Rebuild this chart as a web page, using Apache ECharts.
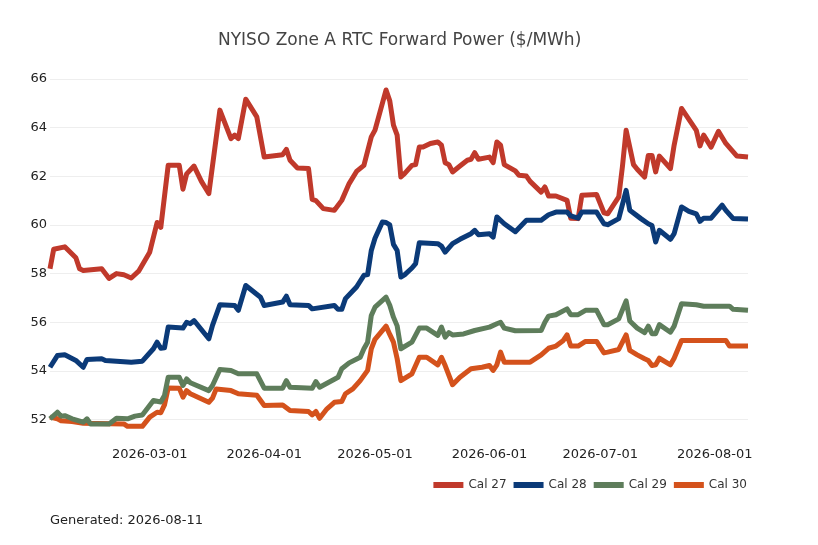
<!DOCTYPE html>
<html>
<head>
<meta charset="utf-8">
<script src="https://cdn.jsdelivr.net/npm/echarts@6/dist/echarts.min.js"></script>
<style>
html,body{margin:0;padding:0;background:#fff;}
#chart{width:818px;height:545px;}
</style>
</head>
<body>
<div id="chart"></div>
<script>
var seriesNames = ['Cal 27', 'Cal 28', 'Cal 29', 'Cal 30'];

var cal27Dates = ['2026-02-02','2026-02-03','2026-02-06','2026-02-09','2026-02-10','2026-02-11','2026-02-16','2026-02-18','2026-02-20','2026-02-22','2026-02-24','2026-02-26','2026-03-01','2026-03-03','2026-03-04','2026-03-06','2026-03-09','2026-03-10','2026-03-11','2026-03-13','2026-03-15','2026-03-17','2026-03-20','2026-03-23','2026-03-24','2026-03-25','2026-03-27','2026-03-30','2026-04-01','2026-04-06','2026-04-07','2026-04-08','2026-04-10','2026-04-13','2026-04-14','2026-04-15','2026-04-17','2026-04-20','2026-04-22','2026-04-24','2026-04-26','2026-04-28','2026-04-30','2026-05-01','2026-05-04','2026-05-05','2026-05-06','2026-05-07','2026-05-08','2026-05-09','2026-05-11','2026-05-12','2026-05-13','2026-05-14','2026-05-16','2026-05-18','2026-05-19','2026-05-20','2026-05-21','2026-05-22','2026-05-24','2026-05-26','2026-05-27','2026-05-28','2026-05-29','2026-06-01','2026-06-02','2026-06-03','2026-06-04','2026-06-05','2026-06-08','2026-06-09','2026-06-11','2026-06-12','2026-06-15','2026-06-16','2026-06-17','2026-06-19','2026-06-22','2026-06-23','2026-06-25','2026-06-26','2026-06-30','2026-07-02','2026-07-03','2026-07-06','2026-07-07','2026-07-08','2026-07-10','2026-07-11','2026-07-13','2026-07-14','2026-07-15','2026-07-16','2026-07-17','2026-07-20','2026-07-21','2026-07-23','2026-07-27','2026-07-28','2026-07-29','2026-07-31','2026-08-02','2026-08-04','2026-08-07','2026-08-10'];
var cal27Values = [58.2,59.0,59.1,58.65,58.2,58.13,58.2,57.8,58.0,57.95,57.82,58.1,58.88,60.1,59.9,62.45,62.45,61.47,62.1,62.42,61.79,61.29,64.72,63.55,63.69,63.55,65.17,64.44,62.79,62.89,63.11,62.66,62.34,62.32,61.05,61.0,60.67,60.6,61.01,61.7,62.2,62.45,63.62,63.9,65.55,65.1,64.1,63.69,61.97,62.11,62.45,62.48,63.2,63.2,63.35,63.41,63.28,62.56,62.48,62.18,62.42,62.66,62.7,62.97,62.7,62.79,62.56,63.41,63.28,62.48,62.22,62.04,62.01,61.79,61.35,61.56,61.19,61.19,61.01,60.28,60.26,61.22,61.25,60.5,60.46,61.15,62.4,63.89,62.48,62.29,61.97,62.86,62.86,62.18,62.83,62.32,63.28,64.79,63.89,63.25,63.69,63.2,63.85,63.35,62.83,62.79];

var cal28Dates = ['2026-02-02','2026-02-04','2026-02-06','2026-02-09','2026-02-11','2026-02-12','2026-02-16','2026-02-17','2026-02-24','2026-02-27','2026-03-02','2026-03-03','2026-03-04','2026-03-05','2026-03-06','2026-03-10','2026-03-11','2026-03-12','2026-03-13','2026-03-17','2026-03-18','2026-03-20','2026-03-24','2026-03-25','2026-03-27','2026-03-31','2026-04-01','2026-04-06','2026-04-07','2026-04-08','2026-04-13','2026-04-14','2026-04-20','2026-04-21','2026-04-22','2026-04-23','2026-04-26','2026-04-28','2026-04-29','2026-04-30','2026-05-01','2026-05-03','2026-05-04','2026-05-05','2026-05-06','2026-05-07','2026-05-08','2026-05-09','2026-05-11','2026-05-12','2026-05-13','2026-05-18','2026-05-19','2026-05-20','2026-05-22','2026-05-24','2026-05-27','2026-05-28','2026-05-29','2026-06-01','2026-06-02','2026-06-03','2026-06-05','2026-06-08','2026-06-11','2026-06-15','2026-06-17','2026-06-19','2026-06-22','2026-06-23','2026-06-25','2026-06-26','2026-06-30','2026-07-02','2026-07-03','2026-07-06','2026-07-08','2026-07-09','2026-07-12','2026-07-14','2026-07-15','2026-07-16','2026-07-17','2026-07-20','2026-07-21','2026-07-23','2026-07-25','2026-07-27','2026-07-28','2026-07-29','2026-07-31','2026-08-03','2026-08-04','2026-08-06','2026-08-10'];
var cal28Values = [54.15,54.63,54.66,54.43,54.15,54.47,54.5,54.43,54.36,54.4,54.91,55.18,54.93,54.95,55.8,55.76,56.0,55.94,56.07,55.32,55.87,56.72,56.69,56.49,57.51,57.03,56.69,56.83,57.07,56.72,56.69,56.55,56.69,56.53,56.53,56.97,57.45,57.93,57.96,58.95,59.45,60.12,60.1,60.0,59.2,58.95,57.86,57.95,58.23,58.41,59.27,59.23,59.13,58.88,59.23,59.41,59.64,59.78,59.6,59.64,59.5,60.33,60.05,59.72,60.19,60.19,60.42,60.53,60.53,60.37,60.28,60.53,60.53,60.05,60.01,60.26,61.42,60.6,60.26,60.05,59.98,59.3,59.78,59.41,59.64,60.74,60.56,60.46,60.15,60.28,60.28,60.81,60.6,60.26,60.24];

var cal29Dates = ['2026-02-02','2026-02-04','2026-02-05','2026-02-06','2026-02-08','2026-02-11','2026-02-12','2026-02-13','2026-02-18','2026-02-20','2026-02-23','2026-02-25','2026-02-27','2026-03-02','2026-03-03','2026-03-04','2026-03-05','2026-03-06','2026-03-09','2026-03-10','2026-03-11','2026-03-12','2026-03-17','2026-03-18','2026-03-20','2026-03-23','2026-03-25','2026-03-30','2026-04-01','2026-04-06','2026-04-07','2026-04-08','2026-04-14','2026-04-15','2026-04-16','2026-04-21','2026-04-22','2026-04-24','2026-04-27','2026-04-28','2026-04-29','2026-04-30','2026-05-01','2026-05-04','2026-05-05','2026-05-06','2026-05-07','2026-05-08','2026-05-11','2026-05-13','2026-05-15','2026-05-18','2026-05-19','2026-05-20','2026-05-21','2026-05-22','2026-05-25','2026-05-28','2026-06-01','2026-06-03','2026-06-04','2026-06-05','2026-06-08','2026-06-15','2026-06-16','2026-06-17','2026-06-19','2026-06-22','2026-06-23','2026-06-25','2026-06-27','2026-06-30','2026-07-02','2026-07-03','2026-07-06','2026-07-08','2026-07-09','2026-07-11','2026-07-13','2026-07-14','2026-07-15','2026-07-16','2026-07-17','2026-07-20','2026-07-21','2026-07-23','2026-07-27','2026-07-29','2026-08-05','2026-08-06','2026-08-10'];
var cal29Values = [52.03,52.3,52.14,52.16,52.03,51.89,52.03,51.82,51.82,52.05,52.03,52.14,52.19,52.78,52.75,52.72,52.99,53.74,53.74,53.4,53.67,53.51,53.19,53.4,54.06,54.02,53.88,53.88,53.29,53.29,53.6,53.33,53.29,53.56,53.33,53.74,54.09,54.33,54.56,54.91,55.18,56.28,56.62,57.03,56.7,56.21,55.85,54.91,55.18,55.76,55.76,55.46,55.8,55.39,55.57,55.48,55.52,55.66,55.8,55.94,56.0,55.76,55.65,55.66,56.0,56.25,56.31,56.55,56.31,56.31,56.49,56.49,55.9,55.9,56.14,56.88,56.05,55.76,55.57,55.84,55.53,55.53,55.9,55.59,55.84,56.76,56.72,56.66,56.66,56.53,56.49];

var cal30Dates = ['2026-02-02','2026-02-04','2026-02-05','2026-02-08','2026-02-11','2026-02-22','2026-02-23','2026-02-27','2026-03-01','2026-03-03','2026-03-04','2026-03-05','2026-03-06','2026-03-09','2026-03-10','2026-03-11','2026-03-12','2026-03-17','2026-03-18','2026-03-19','2026-03-23','2026-03-25','2026-03-30','2026-04-01','2026-04-06','2026-04-08','2026-04-13','2026-04-14','2026-04-15','2026-04-16','2026-04-18','2026-04-20','2026-04-22','2026-04-23','2026-04-25','2026-04-27','2026-04-29','2026-04-30','2026-05-01','2026-05-04','2026-05-05','2026-05-06','2026-05-07','2026-05-08','2026-05-11','2026-05-13','2026-05-15','2026-05-18','2026-05-19','2026-05-20','2026-05-22','2026-05-24','2026-05-27','2026-05-30','2026-06-01','2026-06-02','2026-06-03','2026-06-04','2026-06-05','2026-06-12','2026-06-15','2026-06-17','2026-06-19','2026-06-21','2026-06-22','2026-06-23','2026-06-25','2026-06-27','2026-06-30','2026-07-02','2026-07-03','2026-07-06','2026-07-08','2026-07-09','2026-07-11','2026-07-13','2026-07-14','2026-07-15','2026-07-16','2026-07-17','2026-07-20','2026-07-21','2026-07-23','2026-08-04','2026-08-05','2026-08-10'];
var cal30Values = [52.1,52.03,51.95,51.92,51.85,51.82,51.72,51.72,52.1,52.3,52.28,52.6,53.3,53.29,52.92,53.19,53.06,52.71,52.88,53.26,53.19,53.06,53.0,52.58,52.6,52.37,52.33,52.19,52.33,52.05,52.44,52.71,52.74,53.06,53.26,53.6,54.02,54.91,55.3,55.84,55.5,55.18,54.5,53.6,53.88,54.56,54.56,54.25,54.56,54.22,53.43,53.74,54.09,54.15,54.22,54.02,54.25,54.77,54.36,54.36,54.66,54.93,55.02,55.25,55.48,55.02,55.02,55.21,55.21,54.74,54.77,54.88,55.48,54.84,54.66,54.5,54.43,54.22,54.25,54.52,54.25,54.52,55.25,55.25,55.02,55.02];

var seriesColors = ['#c0392b', '#0b3a78', '#5e7d5b', '#d4521c'];
var titleText = 'NYISO Zone A RTC Forward Power ($/MWh)';
var footerText = 'Generated: 2026-08-11';

function pairs(d, v) { return d.map(function (x, i) { return [x, v[i]]; }); }
var allData = [pairs(cal27Dates, cal27Values), pairs(cal28Dates, cal28Values), pairs(cal29Dates, cal29Values), pairs(cal30Dates, cal30Values)];
var zs = [3, 3, 3, 2];

var chart = echarts.init(document.getElementById('chart'), null, {renderer: 'canvas'});
var font = 'DejaVu Sans';
chart.setOption({
  animation: false,
  backgroundColor: '#ffffff',
  textStyle: {fontFamily: font},
  title: {
    text: titleText, left: 213, top: 27,
    textStyle: {fontFamily: font, fontSize: 17, fontWeight: 'normal', color: '#444'}
  },
  grid: {left: 50, right: 70, top: 79, bottom: 106, containLabel: false},
  legend: {
    data: seriesNames, right: 71, top: 479, padding: 0,
    icon: 'rect', itemWidth: 30, itemHeight: 6, itemGap: 7,
    textStyle: {fontFamily: font, fontSize: 12, color: '#333'}
  },
  xAxis: {
    type: 'time', min: 'dataMin', max: 'dataMax',
    axisLine: {show: false}, axisTick: {show: false}, splitLine: {show: false},
    axisLabel: {
      fontFamily: font, fontSize: 13, color: '#222', margin: 9,
      formatter: function (v) { return echarts.time.format(v, '{yyyy}-{MM}-{dd}', false); }
    }
  },
  yAxis: {
    type: 'value', min: 51.2, max: 66, splitNumber: 7,
    axisLine: {show: false}, axisTick: {show: false},
    splitLine: {show: true, showMinLine: false, lineStyle: {color: '#eeeeee', width: 1}},
    axisLabel: {fontFamily: font, fontSize: 13, color: '#222', showMinLabel: false, margin: 3}
  },
  graphic: [{
    type: 'text', left: 50, top: 514,
    style: {text: footerText, fontFamily: font, fontSize: 13, fill: '#222'}
  }],
  series: seriesNames.map(function (n, i) {
    return {
      name: n, type: 'line', data: allData[i], showSymbol: false, z: zs[i],
      color: seriesColors[i],
      lineStyle: {width: 5, color: seriesColors[i], join: 'round'}
    };
  })
});
</script>
</body>
</html>
